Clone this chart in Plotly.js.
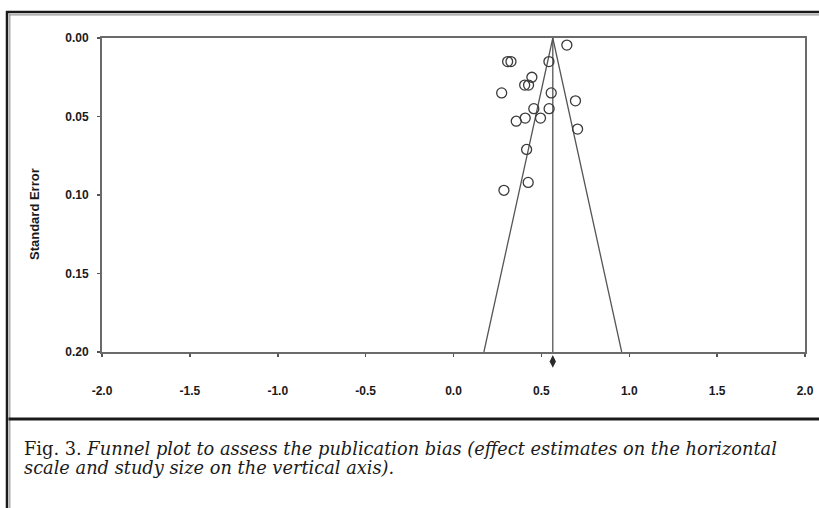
<!DOCTYPE html>
<html>
<head>
<meta charset="utf-8">
<script src="https://cdn.plot.ly/plotly-3.0.1.min.js"></script>
<style>
  html, body { margin: 0; padding: 0; background: #ffffff; }
  #chart { width: 819px; height: 508px; }
</style>
</head>
<body>
<div id="chart"></div>
<script>
// Study effect estimates (horizontal) and standard errors (vertical)
const effect = [0.645, 0.308, 0.327, 0.543, 0.446, 0.405, 0.427, 0.274, 0.556, 0.694,
                0.457, 0.544, 0.408, 0.357, 0.495, 0.706, 0.416, 0.425, 0.287];
const stdErr = [0.0045, 0.015, 0.015, 0.015, 0.025, 0.030, 0.030, 0.035, 0.035, 0.040,
                0.045, 0.045, 0.051, 0.053, 0.051, 0.058, 0.071, 0.092, 0.097];

// Pooled estimate and funnel (95% limits)
const pooledEffect = 0.565;
const funnelX = [0.173, 0.565, 0.957];
const funnelY = [0.20, 0.00, 0.20];
const pooledLineX = [0.565, 0.565];
const pooledLineY = [0.00, 0.20];
const pooledMarkerY = 0.206;

// Axis ticks
const xTickVals = [-2.0, -1.5, -1.0, -0.5, 0.0, 0.5, 1.0, 1.5, 2.0];
const xTickText = ["-2.0", "-1.5", "-1.0", "-0.5", "0.0", "0.5", "1.0", "1.5", "2.0"];
const yTickVals = [0.00, 0.05, 0.10, 0.15, 0.20];
const yTickText = ["0.00", "0.05", "0.10", "0.15", "0.20"];

const yTitle = "Standard Error";
const captionLine1 = "Fig. 3. <i>Funnel plot to assess the publication bias (effect estimates on the horizontal</i>";
const captionLine2 = "<i>scale and study size on the vertical axis).</i>";

const lineGray = "#555555";

const traces = [
  {
    x: funnelX, y: funnelY, type: "scatter", mode: "lines",
    line: { color: lineGray, width: 1.3 }, hoverinfo: "skip", showlegend: false
  },
  {
    x: pooledLineX, y: pooledLineY, type: "scatter", mode: "lines",
    line: { color: lineGray, width: 1.3 }, hoverinfo: "skip", showlegend: false
  },
  {
    x: effect, y: stdErr, type: "scatter", mode: "markers",
    marker: { symbol: "circle-open", size: 10, color: "#3a3a3a", line: { width: 1.3, color: "#3a3a3a" } },
    showlegend: false
  },
  {
    // pooled-estimate marker drawn in a thin strip just below the axis
    x: [pooledEffect], y: [pooledMarkerY], type: "scatter", mode: "markers",
    xaxis: "x", yaxis: "y2",
    marker: { symbol: "diamond-tall", size: 9, color: "#2a2a2a" },
    showlegend: false
  }
];

// paper-coordinate helpers (plot area incl. marker strip: l=102, r=14, t=38, b=136)
const L = 102, R = 14, T = 38, B = 136, W = 819, H = 508;
const pw = W - L - R, ph = H - T - B;
const px = v => (v - L) / pw;
const py = v => (H - B - v) / ph;
const mainBottom = py(352);   // where the main axis box ends

const layout = {
  width: W, height: H,
  margin: { l: L, r: R, t: T, b: B, pad: 0 },
  paper_bgcolor: "#ffffff",
  plot_bgcolor: "rgba(0,0,0,0)",
  font: { family: "Liberation Sans, Arial, sans-serif", color: "#1a1a1a" },
  showlegend: false,
  xaxis: {
    range: [-2, 2], anchor: "y",
    tickmode: "array", tickvals: xTickVals, ticktext: xTickText,
    ticks: "outside", ticklen: 3, tickwidth: 1.5, tickcolor: "#555555",
    ticklabelstandoff: 24,
    tickfont: { size: 12, weight: "bold", color: "#1a1a1a" },
    showgrid: false, zeroline: false,
    showline: true, mirror: true, linecolor: "#6a6a6a", linewidth: 2
  },
  yaxis: {
    domain: [mainBottom, 1],
    range: [0.2, 0],
    tickmode: "array", tickvals: yTickVals, ticktext: yTickText,
    ticks: "outside", ticklen: 3, tickwidth: 1.5, tickcolor: "#555555",
    ticklabelstandoff: 6,
    tickfont: { size: 12, weight: "bold", color: "#1a1a1a" },
    showgrid: false, zeroline: false,
    showline: true, mirror: true, linecolor: "#6a6a6a", linewidth: 2
  },
  yaxis2: {
    domain: [0, mainBottom],
    range: [0.2 + 0.2 * (352 - (H - B)) / (352 - 38) * -1, 0.2],
    showticklabels: false, ticks: "", showgrid: false, zeroline: false, showline: false
  },
  annotations: [
    {
      text: yTitle, textangle: -90, xref: "paper", yref: "paper",
      x: px(35), y: py(214), xanchor: "center", yanchor: "middle", showarrow: false,
      font: { size: 13, weight: "bold", color: "#1a1a1a", family: "Liberation Sans, Arial, sans-serif" }
    },
    {
      text: captionLine1, xref: "paper", yref: "paper",
      x: px(22), y: py(448), xanchor: "left", yanchor: "middle", showarrow: false,
      font: { size: 17.8, color: "#1a1a1a", family: "DejaVu Serif, serif" }
    },
    {
      text: captionLine2, xref: "paper", yref: "paper",
      x: px(22), y: py(467), xanchor: "left", yanchor: "middle", showarrow: false,
      font: { size: 17.8, color: "#1a1a1a", family: "DejaVu Serif, serif" }
    }
  ],
  shapes: [
    // outer frame: top double line
    { type: "line", xref: "paper", yref: "paper", x0: px(6), x1: px(819), y0: py(12), y1: py(12),
      line: { color: "#1a1a1a", width: 2.5 } },
    { type: "line", xref: "paper", yref: "paper", x0: px(9), x1: px(819), y0: py(14.8), y1: py(14.8),
      line: { color: "#9a9a9a", width: 1.2 } },
    // outer frame: left double line
    { type: "line", xref: "paper", yref: "paper", x0: px(7), x1: px(7), y0: py(11), y1: py(508),
      line: { color: "#1a1a1a", width: 2.5 } },
    { type: "line", xref: "paper", yref: "paper", x0: px(9.8), x1: px(9.8), y0: py(14), y1: py(508),
      line: { color: "#9a9a9a", width: 1.2 } },
    // separator between chart and caption
    { type: "line", xref: "paper", yref: "paper", x0: px(8.5), x1: px(819), y0: py(419), y1: py(419),
      line: { color: "#1a1a1a", width: 3 } }
  ]
};

Plotly.newPlot("chart", traces, layout, { displayModeBar: false, staticPlot: true });
</script>
</body>
</html>
